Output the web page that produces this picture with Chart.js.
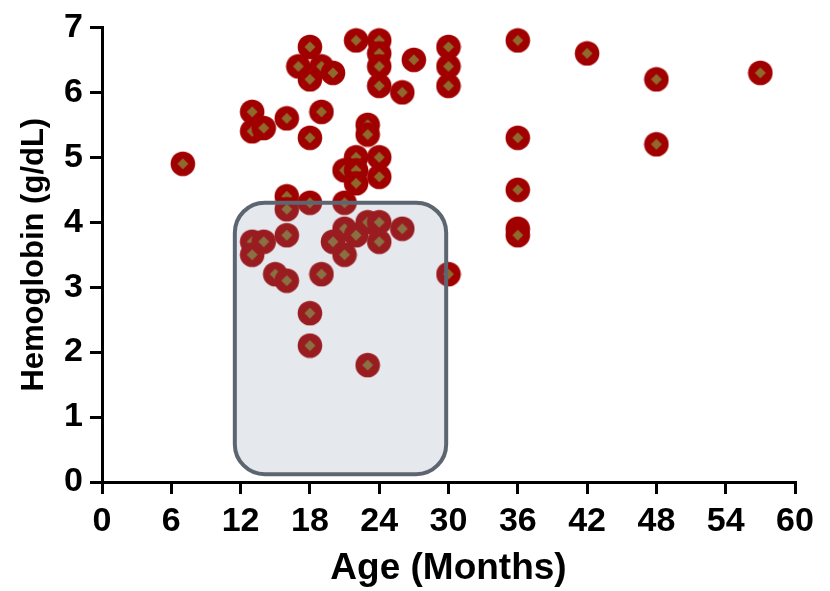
<!DOCTYPE html>
<html>
<head>
<meta charset="utf-8">
<script src="https://cdn.jsdelivr.net/npm/chart.js@4/dist/chart.umd.min.js"></script>
<style>
  html, body { margin: 0; padding: 0; background: #fff; }
  #wrap { width: 830px; height: 591px; }
</style>
</head>
<body>
<div id="wrap"><canvas id="c" width="830" height="591"></canvas></div>
<script>
// Age of each child (months)
const ageMonths = [
  7,
  13, 13, 13, 13, 14, 14, 15,
  16, 16, 16, 16, 16,
  17, 18, 18, 18, 18, 18, 18,
  19, 19, 19, 20, 20,
  21, 21, 21, 21,
  22, 22, 22, 22, 22,
  23, 23, 23, 23,
  24, 24, 24, 24, 24, 24, 24, 24,
  26, 26, 27,
  30, 30, 30, 30,
  36, 36, 36, 36, 36,
  42, 48, 48, 57
];
// Hemoglobin of each child (g/dL)
const hemoglobin = [
  4.9,
  5.7, 5.4, 3.7, 3.5, 5.45, 3.7, 3.2,
  5.6, 4.4, 4.2, 3.8, 3.1,
  6.4, 6.7, 6.2, 5.3, 4.3, 2.6, 2.1,
  6.4, 5.7, 3.2, 6.3, 3.7,
  4.3, 4.8, 3.9, 3.5,
  6.8, 5.0, 4.8, 4.6, 3.8,
  5.5, 5.35, 4.0, 1.8,
  6.8, 6.6, 6.4, 6.1, 5.0, 4.7, 4.0, 3.7,
  6.0, 3.9, 6.5,
  6.7, 6.4, 6.1, 3.2,
  6.8, 5.3, 4.5, 3.9, 3.8,
  6.6, 6.2, 5.2, 6.3
];
const xTickValues = [0, 6, 12, 18, 24, 30, 36, 42, 48, 54, 60];
const yTickValues = [0, 1, 2, 3, 4, 5, 6, 7];

// Highlighted region (axis units)
const region = { xMin: 11.5, xMax: 29.8, yMin: 0.12, yMax: 4.3 };

// Marker: red disc with a small gold diamond in the middle
function makeMarker() {
  const m = document.createElement('canvas');
  m.width = 26; m.height = 26;
  const g = m.getContext('2d');
  g.fillStyle = '#a10000';
  g.beginPath(); g.arc(13, 13, 12.3, 0, Math.PI * 2); g.fill();
  g.fillStyle = '#8f6a2c';
  g.beginPath();
  g.moveTo(13, 7.5); g.lineTo(18.5, 13); g.lineTo(13, 18.5); g.lineTo(7.5, 13);
  g.closePath(); g.fill();
  return m;
}

const regionBox = {
  id: 'regionBox',
  afterDatasetsDraw(chart) {
    const { ctx, scales: { x, y } } = chart;
    const l = x.getPixelForValue(region.xMin), r = x.getPixelForValue(region.xMax);
    const t = y.getPixelForValue(region.yMax), b = y.getPixelForValue(region.yMin);
    ctx.save();
    ctx.beginPath();
    ctx.roundRect(l, t, r - l, b - t, 30);
    ctx.fillStyle = 'rgba(125,140,158,0.2)';
    ctx.fill();
    ctx.lineWidth = 4;
    ctx.strokeStyle = '#5d6571';
    ctx.stroke();
    ctx.restore();
  }
};

const FONT = "'Liberation Sans', Arial, sans-serif";

new Chart(document.getElementById('c'), {
  type: 'scatter',
  data: {
    datasets: [{
      data: ageMonths.map((a, i) => ({ x: a, y: hemoglobin[i] })),
      pointStyle: makeMarker(),
      pointRadius: 12,
      pointHoverRadius: 12,
      clip: false
    }]
  },
  options: {
    responsive: false,
    devicePixelRatio: 1,
    animation: false,
    layout: { padding: { top: 22, right: 35, left: 0, bottom: 0 } },
    plugins: { legend: { display: false }, tooltip: { enabled: false } },
    scales: {
      x: {
        type: 'linear', min: 0, max: 60,
        afterBuildTicks: s => { s.ticks = xTickValues.map(v => ({ value: v })); },
        afterFit: s => { s.height = 109; },
        ticks: { font: { family: FONT, size: 34, weight: 'bold' }, color: '#000', padding: 7, maxRotation: 0 },
        grid: { drawOnChartArea: false, color: '#000', lineWidth: 3, tickLength: 12 },
        border: { color: '#000', width: 3 },
        title: { display: true, text: 'Age (Months)', color: '#000',
                 font: { family: FONT, size: 37, weight: 'bold' }, padding: { top: 0, bottom: 0 } }
      },
      y: {
        type: 'linear', min: 0, max: 7,
        afterBuildTicks: s => { s.ticks = yTickValues.map(v => ({ value: v })); },
        afterFit: s => { s.width = 102; },
        ticks: { font: { family: FONT, size: 34, weight: 'bold' }, color: '#000', padding: 7 },
        grid: { drawOnChartArea: false, color: '#000', lineWidth: 3, tickLength: 12 },
        border: { color: '#000', width: 3 },
        title: { display: true, text: 'Hemoglobin (g/dL)', color: '#000',
                 font: { family: FONT, size: 31, weight: 'bold' }, padding: { top: 16, bottom: 0 } }
      }
    }
  },
  plugins: [regionBox]
});
</script>
</body>
</html>
